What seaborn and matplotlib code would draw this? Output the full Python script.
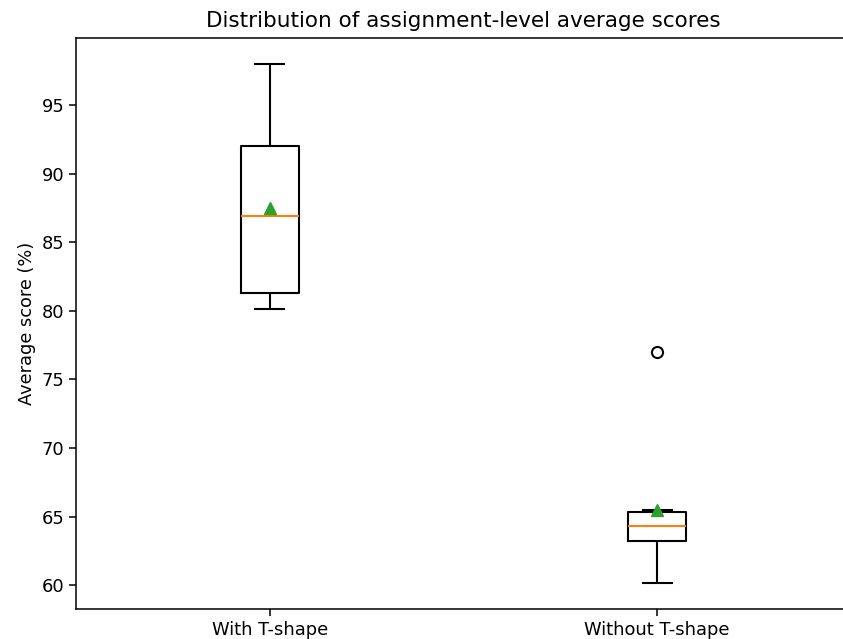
import pandas as pd
import seaborn as sns
import matplotlib.pyplot as plt

# assignment-level average scores (%)
with_t = [80.1, 80.8, 81.3, 84.0, 86.9, 89.2, 92.0, 95.2, 98.0]
without_t = [60.15, 62.9, 63.5, 64.3, 65.15, 65.45, 77.0]
groups = ['With T-shape', 'Without T-shape']

df = pd.DataFrame({
    'group': [groups[0]] * len(with_t) + [groups[1]] * len(without_t),
    'score': with_t + without_t,
})

fig = plt.figure(figsize=(8.43, 6.39), dpi=100)
ax = fig.add_axes([76 / 843, 30 / 639, 775 / 843, 571 / 639])

sns.boxplot(data=df, x='group', y='score', order=groups, ax=ax,
            fill=False, color='black', width=0.15, whis=1.5, linewidth=1.5,
            showmeans=True,
            medianprops={'color': '#ff7f0e', 'linewidth': 1.5},
            meanprops={'marker': '^', 'markerfacecolor': '#2ca02c',
                       'markeredgecolor': '#2ca02c', 'markersize': 9},
            flierprops={'marker': 'o', 'markerfacecolor': 'none',
                        'markeredgecolor': 'black', 'markersize': 8,
                        'markeredgewidth': 1.5})

ax.set_title('Distribution of assignment-level average scores', fontsize=15.5, pad=8)
ax.set_ylabel('Average score (%)', fontsize=12.8)
ax.set_xlabel('')
ax.tick_params(labelsize=12.9, length=5, width=1.1)
for s in ax.spines.values():
    s.set_linewidth(1.1)

fig.savefig('out.png', dpi=100)
